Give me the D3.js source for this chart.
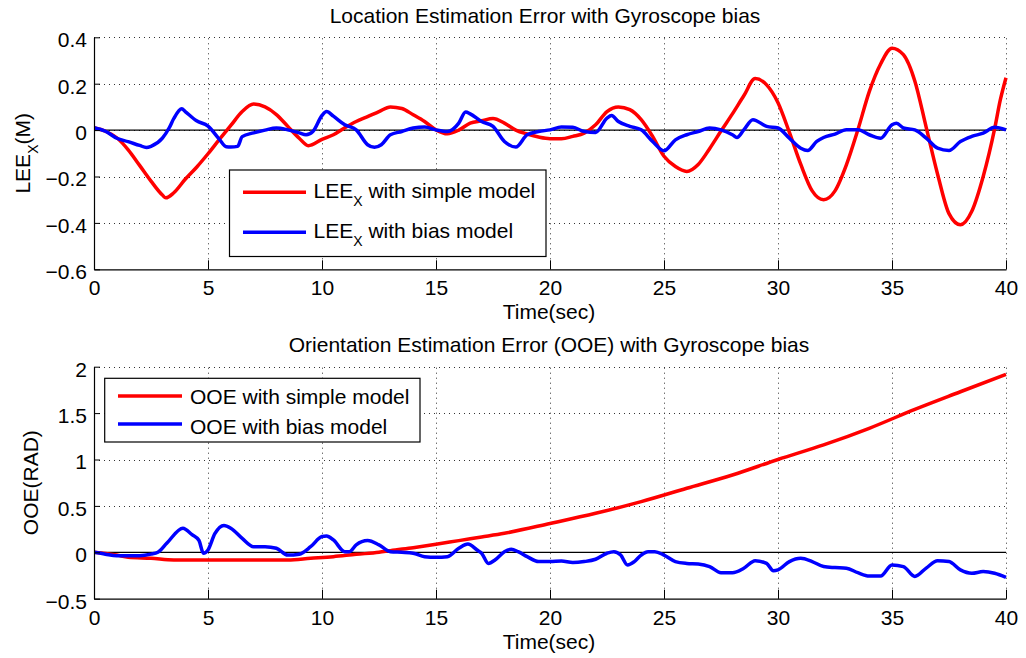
<!DOCTYPE html>
<html>
<head>
<meta charset="utf-8">
<script src="https://cdn.jsdelivr.net/npm/d3@7"></script>
<style>
  html, body { margin: 0; padding: 0; background: #fff; }
  svg { display: block; }
  text { font-family: "Liberation Sans", Arial, Helvetica, sans-serif; fill: #000; }
</style>
</head>
<body>
<svg id="chart" width="1026" height="658"></svg>
<script>
// ---------------- DATA ----------------
const xTicks = [0, 5, 10, 15, 20, 25, 30, 35, 40];
const xTickLabels = ["0", "5", "10", "15", "20", "25", "30", "35", "40"];

const leeTicks = [-0.6, -0.4, -0.2, 0, 0.2, 0.4];
const leeTickLabels = ["\u22120.6", "\u22120.4", "\u22120.2", "0", "0.2", "0.4"];

const ooeTicks = [-0.5, 0, 0.5, 1, 1.5, 2];
const ooeTickLabels = ["\u22120.5", "0", "0.5", "1", "1.5", "2"];

// [time (sec), value]
const leeSimple = [[0,0.01],[0.5,-0.005],[1,-0.033],[1.5,-0.085],[2,-0.152],[2.5,-0.22],[3,-0.28],[3.15,-0.292],[3.5,-0.27],[4,-0.212],[4.5,-0.16],[5,-0.102],[5.5,-0.04],[6,0.02],[6.5,0.08],[7,0.112],[7.5,0.1],[8,0.067],[8.5,0.016],[9,-0.035],[9.4,-0.067],[10,-0.04],[10.5,-0.02],[11,0.01],[11.5,0.037],[12,0.058],[12.5,0.08],[13,0.1],[13.5,0.093],[14,0.066],[14.5,0.037],[15,0.001],[15.5,-0.016],[16,0.0],[16.5,0.03],[17,0.04],[17.5,0.05],[18,0.03],[18.5,0.0],[19,-0.017],[19.5,-0.03],[20,-0.037],[20.5,-0.037],[21,-0.027],[21.5,-0.013],[22,0.023],[22.5,0.08],[23,0.1],[23.5,0.088],[24,0.045],[24.5,-0.027],[25,-0.113],[25.5,-0.157],[26,-0.178],[26.5,-0.148],[27,-0.08],[27.5,-0.004],[28,0.07],[28.5,0.148],[29,0.222],[29.5,0.195],[30,0.118],[30.5,-0.01],[31,-0.148],[31.5,-0.262],[32,-0.3],[32.5,-0.262],[33,-0.15],[33.5,0.0],[34,0.165],[34.5,0.285],[35,0.353],[35.5,0.325],[36,0.212],[36.5,0.012],[37,-0.19],[37.5,-0.36],[38,-0.408],[38.5,-0.35],[39,-0.2],[39.5,0.005],[39.75,0.13],[40,0.226]];

const leeBias = [[0,0.01],[0.5,-0.005],[1,-0.035],[1.5,-0.05],[2,-0.066],[2.3,-0.075],[2.5,-0.07],[3,-0.035],[3.3,0.01],[3.5,0.05],[3.85,0.092],[4,0.08],[4.5,0.04],[5,0.017],[5.5,-0.04],[5.8,-0.072],[6,-0.073],[6.3,-0.07],[6.5,-0.028],[7,-0.012],[7.5,0.0],[8,0.009],[8.5,0.001],[9,-0.012],[9.3,-0.02],[9.6,-0.006],[10,0.063],[10.2,0.08],[10.5,0.06],[11,0.023],[11.5,0.001],[12,-0.063],[12.3,-0.074],[12.6,-0.063],[13,-0.02],[13.5,-0.006],[14,0.009],[14.5,0.013],[15,0.001],[15.5,-0.006],[16,0.03],[16.3,0.078],[16.5,0.07],[17,0.037],[17.5,0.016],[18,-0.049],[18.5,-0.073],[19,-0.02],[19.5,-0.006],[20,0.001],[20.5,0.013],[21,0.012],[21.5,-0.006],[22,-0.01],[22.5,0.052],[22.7,0.063],[23,0.037],[23.5,0.016],[24,0.001],[24.5,-0.049],[25,-0.089],[25.5,-0.042],[26,-0.02],[26.5,-0.006],[27,0.009],[27.5,0.001],[28,-0.02],[28.2,-0.032],[28.5,0.001],[28.9,0.045],[29.5,0.016],[30,0.009],[30.5,-0.035],[31,-0.078],[31.3,-0.088],[31.7,-0.049],[32,-0.032],[32.5,-0.017],[33,0.001],[33.5,0.001],[34,-0.02],[34.5,-0.035],[35,0.023],[35.2,0.03],[35.5,0.009],[36,0.001],[36.5,-0.035],[37,-0.078],[37.5,-0.088],[38,-0.049],[38.5,-0.027],[39,-0.013],[39.5,0.012],[40,0.001]];

const ooeSimple = [[0,0],[1,-0.03],[1.5,-0.054],[2.5,-0.065],[3.5,-0.083],[5,-0.083],[8.5,-0.083],[9.5,-0.065],[10.5,-0.047],[11.5,-0.022],[12.5,0],[13,0.018],[14,0.05],[15,0.086],[16,0.126],[17,0.165],[18,0.205],[20,0.31],[22,0.42],[24,0.546],[26,0.69],[28,0.833],[30,1.0],[32,1.157],[34,1.336],[36,1.54],[38,1.73],[40,1.918]];

const ooeBias = [[0,0],[0.5,-0.02],[1,-0.036],[2,-0.036],[2.5,-0.02],[2.8,0],[3.2,0.1],[3.9,0.26],[4.3,0.19],[4.6,0.13],[4.8,-0.01],[5,0.025],[5.3,0.2],[5.7,0.29],[6,0.26],[6.5,0.15],[7,0.06],[7.5,0.06],[8,0.043],[8.5,-0.03],[9,-0.02],[9.5,0.06],[10,0.17],[10.2,0.176],[10.5,0.133],[11,0.007],[11.2,0.007],[11.5,0.08],[12,0.126],[12.5,0.08],[13,0.007],[13.5,0],[14,-0.01],[14.5,-0.047],[15,-0.054],[15.5,-0.047],[16,0.043],[16.4,0.09],[16.8,0.025],[17,-0.01],[17.3,-0.12],[17.6,-0.08],[18,0.007],[18.3,0.032],[18.6,0.007],[19,-0.047],[19.5,-0.1],[20,-0.1],[20.5,-0.093],[21,-0.11],[21.5,-0.1],[22,-0.075],[22.5,-0.01],[22.8,0.007],[23.1,-0.03],[23.4,-0.136],[23.7,-0.1],[24,-0.03],[24.3,0.007],[24.6,0.007],[25,-0.03],[25.5,-0.1],[26,-0.12],[26.5,-0.126],[27,-0.154],[27.5,-0.22],[28,-0.22],[28.5,-0.172],[29,-0.09],[29.5,-0.12],[29.8,-0.2],[30,-0.19],[30.5,-0.1],[31,-0.065],[31.5,-0.1],[32,-0.154],[32.5,-0.165],[33,-0.172],[33.5,-0.22],[34,-0.255],[34.5,-0.255],[35,-0.136],[35.5,-0.154],[36,-0.26],[36.5,-0.17],[37,-0.09],[37.5,-0.1],[38,-0.19],[38.5,-0.226],[39,-0.208],[39.5,-0.226],[40,-0.27]];

// ---------------- DRAWING ----------------
const svg = d3.select("#chart");
const FONT = 21;
const RED = "#ff0000", BLUE = "#0000ff";

function panel(cfg) {
  const x = d3.scaleLinear().domain([0, 40]).range([94, 1006]);
  const y = d3.scaleLinear().domain(cfg.yDomain).range([cfg.yBottom, cfg.yTop]);
  const g = svg.append("g");

  const clipId = "clip" + cfg.id;
  svg.append("clipPath").attr("id", clipId).append("rect")
    .attr("x", 94).attr("y", cfg.yTop - 3).attr("width", 912 + 3).attr("height", cfg.yBottom - cfg.yTop + 3);

  // grid (dotted)
  const grid = g.append("g").attr("stroke", "#333").attr("stroke-width", 1).attr("stroke-dasharray", "1,4");
  grid.selectAll("line.v").data(xTicks.filter(d => d !== 0)).join("line")
    .attr("x1", d => Math.round(x(d)) + 0.5).attr("x2", d => Math.round(x(d)) + 0.5)
    .attr("y1", cfg.yBottom).attr("y2", cfg.yTop);
  grid.selectAll("line.h").data(cfg.ticks.filter(d => d !== cfg.yDomain[0])).join("line")
    .attr("y1", d => Math.round(y(d)) + 0.5).attr("y2", d => Math.round(y(d)) + 0.5)
    .attr("x1", 94).attr("x2", 1006);

  // zero reference line
  g.append("line")
    .attr("x1", 94).attr("x2", 1006)
    .attr("y1", y(0)).attr("y2", y(0))
    .attr("stroke", "#000").attr("stroke-width", 1.2);

  const line = d3.line().x(d => x(d[0])).y(d => y(d[1])).curve(d3.curveMonotoneX);
  const lines = g.append("g").attr("clip-path", `url(#${clipId})`);
  lines.append("path").datum(cfg.red).attr("d", line)
    .attr("fill", "none").attr("stroke", RED).attr("stroke-width", 3.5).attr("stroke-linejoin", "round");
  lines.append("path").datum(cfg.blue).attr("d", line)
    .attr("fill", "none").attr("stroke", BLUE).attr("stroke-width", 3.5).attr("stroke-linejoin", "round");

  // axes
  const xAxis = d3.axisBottom(x).tickValues(xTicks)
    .tickFormat((d, i) => xTickLabels[i]).tickSizeInner(-9).tickSizeOuter(0).tickPadding(11);
  const gx = g.append("g").attr("transform", `translate(0,${cfg.yBottom})`).call(xAxis);
  gx.selectAll("text").attr("font-size", FONT).attr("font-family", null);

  const yAxis = d3.axisLeft(y).tickValues(cfg.ticks)
    .tickFormat((d, i) => cfg.tickLabels[i]).tickSizeInner(-6).tickSizeOuter(0).tickPadding(7);
  const gy = g.append("g").attr("transform", "translate(94,0)").call(yAxis);
  gy.selectAll("text").attr("font-size", FONT).attr("font-family", null).attr("dy", "0.45em");

  [gx, gy].forEach(a => {
    a.select(".domain").attr("stroke", "#000").attr("stroke-width", 1.2);
    a.selectAll(".tick line").attr("stroke", "#000");
  });

  // title
  g.append("text").attr("x", cfg.titleX).attr("y", cfg.titleY)
    .attr("text-anchor", "middle").attr("font-size", FONT).text(cfg.title);

  // x label
  g.append("text").attr("x", 549).attr("y", cfg.yBottom + 50)
    .attr("text-anchor", "middle").attr("font-size", FONT).text("Time(sec)");

  // y label
  const yl = g.append("text")
    .attr("transform", `translate(${cfg.yLabelX},${(cfg.yTop + cfg.yBottom) / 2}) rotate(-90)`)
    .attr("text-anchor", "middle").attr("font-size", FONT);
  cfg.yLabel(yl);

  // legend
  const L = cfg.legend;
  const lg = g.append("g");
  lg.append("rect").attr("x", L.x).attr("y", L.y).attr("width", L.w).attr("height", L.h)
    .attr("fill", "#fff").attr("stroke", "#000").attr("stroke-width", 1.2);
  L.rows.forEach((r, i) => {
    const ly = L.lineY[i];
    lg.append("line").attr("x1", L.lx1).attr("x2", L.lx2).attr("y1", ly).attr("y2", ly)
      .attr("stroke", r.color).attr("stroke-width", 3.5);
    const t = lg.append("text").attr("x", L.tx).attr("y", L.textY[i]).attr("font-size", FONT);
    r.label(t);
  });
}

function subX(t, pre, post) {
  t.append("tspan").text(pre);
  t.append("tspan").attr("font-size", 14).attr("dy", 8).text("X");
  t.append("tspan").attr("dy", -8).text(post);
}

panel({
  id: "top",
  yDomain: [-0.6, 0.4], yTop: 37.3, yBottom: 269.3,
  ticks: leeTicks, tickLabels: leeTickLabels,
  red: leeSimple, blue: leeBias,
  title: "Location Estimation Error with Gyroscope bias", titleX: 545, titleY: 22.7,
  yLabelX: 29.5,
  yLabel: t => subX(t, "LEE", "(M)"),
  legend: {
    x: 229.5, y: 170, w: 316.5, h: 86.5,
    lx1: 243, lx2: 306, tx: 313.5,
    lineY: [192.3, 232.3], textY: [198.3, 238.3],
    rows: [
      { color: RED, label: t => subX(t, "LEE", " with simple model") },
      { color: BLUE, label: t => subX(t, "LEE", " with bias model") }
    ]
  }
});

panel({
  id: "bot",
  yDomain: [-0.5, 2], yTop: 366.7, yBottom: 598.7,
  ticks: ooeTicks, tickLabels: ooeTickLabels,
  red: ooeSimple, blue: ooeBias,
  title: "Orientation Estimation Error (OOE) with Gyroscope bias", titleX: 549, titleY: 351.7,
  yLabelX: 37.5,
  yLabel: t => t.text("OOE(RAD)"),
  legend: {
    x: 104.7, y: 378.3, w: 315.3, h: 63.7,
    lx1: 118, lx2: 182, tx: 190,
    lineY: [396, 424], textY: [404, 434],
    rows: [
      { color: RED, label: t => t.text("OOE with simple model") },
      { color: BLUE, label: t => t.text("OOE with bias model") }
    ]
  }
});
</script>
</body>
</html>
